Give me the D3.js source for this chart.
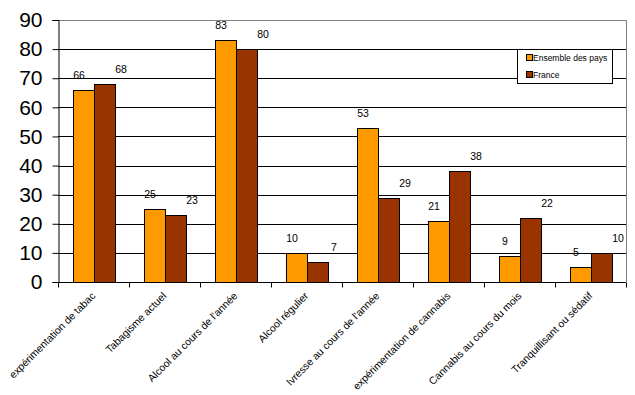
<!DOCTYPE html>
<html><head><meta charset="utf-8">
<script src="https://cdn.jsdelivr.net/npm/d3@7"></script>
<style>body{margin:0;background:#fff}svg{display:block}text{font-family:Arial,"Liberation Sans",sans-serif}</style>
</head><body><svg id="c" width="635" height="395"></svg>
<script>
const categories = ["expérimentation de tabac","Tabagisme actuel","Alcool au cours de l'année","Alcool régulier","Ivresse au cours de l'année","expérimentation de cannabis","Cannabis au cours du mois","Tranquillisant ou sédatif"];
const seriesNames = ["Ensemble des pays","France"];
const ensemble = [66,25,83,10,53,21,9,5];
const france = [68,23,80,7,29,38,22,10];
const yTicks = [0,10,20,30,40,50,60,70,80,90];
const colors = ["#FF9900","#993300"];

const svg = d3.select("#c");
const L=58,R=626,T=20,B=282;
const x = d3.scaleBand().domain(categories).range([L,R]).paddingInner(0.41).paddingOuter(0.205);
const x1 = d3.scaleBand().domain(seriesNames).range([0,x.bandwidth()]);
const y = d3.scaleLinear().domain([0,90]).range([B,T]);

// plot border (gray)
svg.append("path").attr("d",`M${L},${T+0.5}H${R+0.5}V${B}`).attr("fill","none").attr("stroke","#808080");
// gridlines
svg.append("g").selectAll("line").data(yTicks.filter(d=>d>0&&d<90)).join("line")
  .attr("x1",L).attr("x2",R).attr("y1",d=>Math.round(y(d))+0.5).attr("y2",d=>Math.round(y(d))+0.5).attr("stroke","#000");

// bars
const data = categories.map((c,i)=>({c,vals:[ensemble[i],france[i]]}));
const g = svg.append("g");
data.forEach(d=>{
  d.vals.forEach((v,j)=>{
    g.append("rect").attr("x",Math.round(x(d.c)+x1(seriesNames[j]))+0.5).attr("y",Math.round(y(v))+0.5)
      .attr("width",Math.round(x1.bandwidth())).attr("height",Math.round(B-y(v)))
      .attr("fill",colors[j]).attr("stroke","#000").attr("stroke-width",1);
    const cx = x(d.c)+x1(seriesNames[j])+x1.bandwidth()/2 + (j===0?-4:17);
    g.append("text").attr("x",cx).attr("y",y(v)-11).attr("text-anchor","middle")
      .attr("font-size",10.5).attr("fill","#000").text(v);
  });
});

// y axis
const ya = d3.axisLeft(y).tickValues(yTicks).tickSize(6).tickPadding(6);
const yg = svg.append("g").attr("transform",`translate(${L+0.5},0)`).call(ya);
yg.select(".domain").attr("stroke","#000");
yg.selectAll(".tick line").attr("stroke","#000");
yg.selectAll(".tick text").attr("font-size",21).attr("fill","#000").attr("dx",-4).attr("font-family","Arial,'Liberation Sans',sans-serif");

// x axis
const xa = svg.append("g").attr("transform",`translate(0,${B+0.5})`);
xa.append("line").attr("x1",L).attr("x2",R).attr("stroke","#000");
const tickPos = categories.map(c=>x(c)-x.step()*x.paddingInner()/2).concat([R]);
xa.selectAll("line.t").data(tickPos).join("line").attr("class","t")
  .attr("x1",d=>Math.round(d)+0.5).attr("x2",d=>Math.round(d)+0.5).attr("y1",0).attr("y2",5).attr("stroke","#000");
svg.append("g").selectAll("text").data(categories).join("text")
  .attr("transform",d=>`translate(${x(d)+x.bandwidth()/2},${B+12}) rotate(-45)`)
  .attr("text-anchor","end").attr("font-size",10.4).attr("fill","#000").attr("dy","0.35em").text(d=>d);

// legend
const lg = svg.append("g");
lg.append("rect").attr("x",517.5).attr("y",49.5).attr("width",95).attr("height",34).attr("fill","#fff").attr("stroke","#000");
seriesNames.forEach((n,i)=>{
  const yy = 58+i*17;
  lg.append("rect").attr("x",526.5).attr("y",yy-3.5).attr("width",6).attr("height",6).attr("fill",colors[i]).attr("stroke","#000");
  lg.append("text").attr("x",533).attr("y",yy).attr("dy","0.35em").attr("font-size",8.5).attr("fill","#000").text(n);
});
</script></body></html>
